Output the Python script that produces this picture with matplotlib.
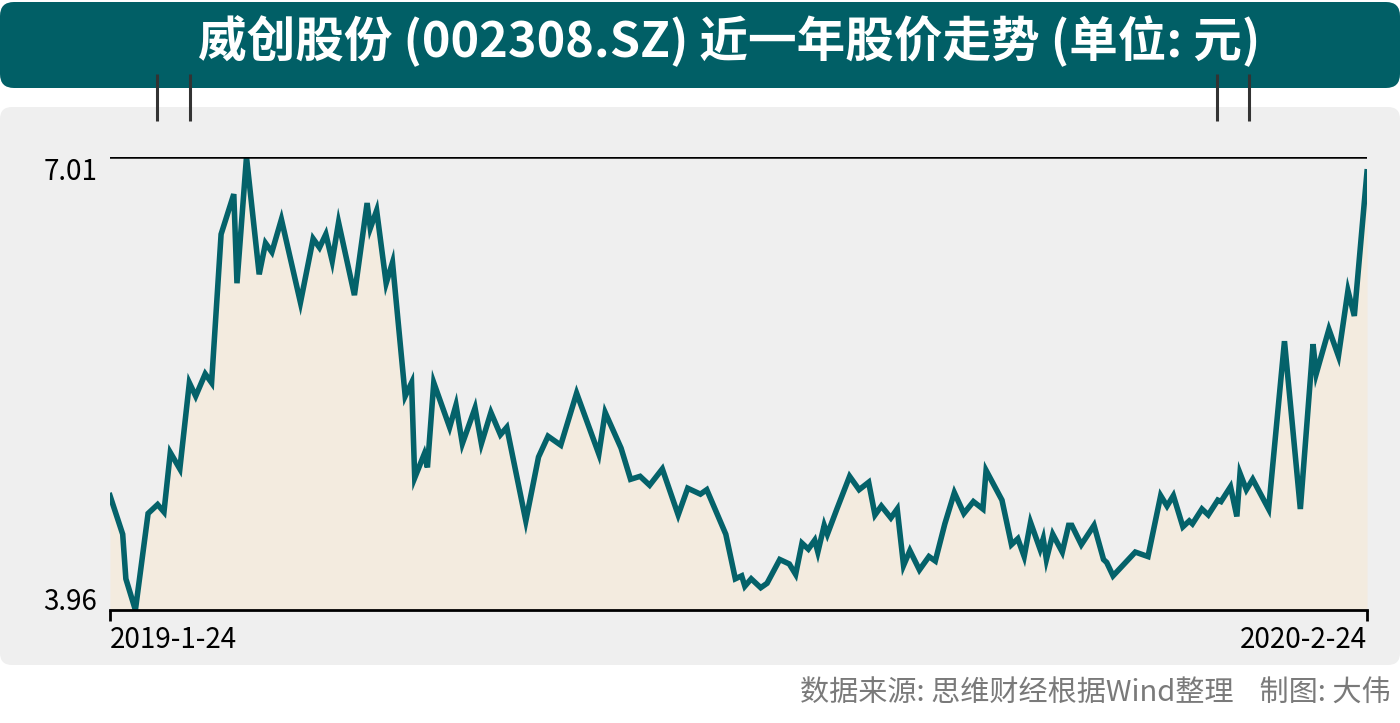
"""
威创股份(002308.SZ) 近一年股价走势 -> out.png
"""

import numpy as np
import pandas as pd
import matplotlib
matplotlib.use("Agg")
import matplotlib.pyplot as plt
from matplotlib.patches import FancyBboxPatch

plt.rcParams["font.family"] = ["Noto Sans CJK SC", "DejaVu Sans"]

# --- Datos ---
START = "2019-01-24"
END = "2020-02-24"
DIAS = [0, 4, 5, 8, 12, 15, 17, 19, 22, 25, 27, 30, 32, 35, 39, 40, 43, 47, 49, 51,
        54, 60, 64, 66, 68, 70, 72, 77, 81, 82, 84, 87, 89, 93, 95, 96, 99, 100, 102, 107,
        109, 111, 115, 117, 120, 123, 125, 131, 135, 138, 142, 147, 154, 156, 161, 164, 167, 170, 174, 179,
        182, 186, 188, 194, 197, 199, 200, 202, 205, 207, 211, 214, 216, 218, 220, 222, 223, 225, 226, 229,
        233, 236, 239, 241, 243, 246, 248, 250, 252, 255, 258, 260, 263, 266, 269, 272, 275, 276, 281, 284,
        286, 288, 290, 293, 294, 295, 297, 300, 302, 303, 306, 310, 313, 314, 316, 323, 327, 331, 333, 335,
        338, 340, 341, 344, 346, 349, 350, 353, 355, 356, 358, 360, 365, 370, 375, 379, 380, 384, 387, 390,
        392, 396]
PRECIO = [4.73, 4.47, 4.17, 3.96, 4.61, 4.67, 4.62, 5.02, 4.91, 5.49, 5.40, 5.55, 5.49, 6.49, 6.76, 6.16, 7.01, 6.22, 6.43, 6.37,
          6.59, 6.03, 6.46, 6.40, 6.49, 6.31, 6.57, 6.08, 6.70, 6.53, 6.65, 6.16, 6.30, 5.40, 5.49, 4.85, 5.01, 4.92, 5.49, 5.19,
          5.34, 5.08, 5.32, 5.08, 5.29, 5.14, 5.19, 4.56, 4.99, 5.13, 5.07, 5.42, 5.01, 5.29, 5.05, 4.84, 4.86, 4.80, 4.91, 4.60,
          4.78, 4.74, 4.77, 4.47, 4.17, 4.19, 4.12, 4.17, 4.11, 4.14, 4.30, 4.27, 4.20, 4.41, 4.37, 4.43, 4.35, 4.53, 4.47, 4.64,
          4.86, 4.77, 4.82, 4.60, 4.66, 4.58, 4.64, 4.26, 4.36, 4.23, 4.32, 4.29, 4.54, 4.75, 4.61, 4.69, 4.64, 4.90, 4.70, 4.40,
          4.44, 4.32, 4.55, 4.37, 4.44, 4.30, 4.47, 4.35, 4.53, 4.53, 4.40, 4.53, 4.30, 4.28, 4.19, 4.35, 4.32, 4.73, 4.66, 4.73,
          4.52, 4.56, 4.54, 4.64, 4.60, 4.70, 4.69, 4.79, 4.59, 4.88, 4.77, 4.84, 4.64, 5.77, 4.64, 5.75, 5.55, 5.85, 5.67, 6.11,
          5.94, 6.91]
Y_MIN, Y_MAX = 3.96, 7.01

TITULO = "威创股份 (002308.SZ) 近一年股价走势 (单位: 元)"
FUENTE = "数据来源: 思维财经根据Wind整理    制图: 大伟"

C_BANNER = "#015f66"
C_PANEL = "#efefef"
C_LINEA = "#04626a"
C_RELLENO = "#f3ebdf"

W, H = 1400, 723
fechas = pd.Timestamp(START) + pd.to_timedelta(DIAS, unit="D")

fig = plt.figure(figsize=(W / 100, H / 100), dpi=100)
fig.patch.set_facecolor("white")

# ---------- fondo (coordenadas en pixeles) ----------
bg = fig.add_axes([0, 0, 1, 1])
bg.set_xlim(0, W)
bg.set_ylim(H, 0)
bg.axis("off")
bg.add_patch(FancyBboxPatch((0, 2), W, 86, boxstyle="round,pad=0,rounding_size=14",
                            fc=C_BANNER, ec="none"))
bg.add_patch(FancyBboxPatch((0, 107), W, 558, boxstyle="round,pad=0,rounding_size=12",
                            fc=C_PANEL, ec="none"))
for xp in [157, 190, 1217, 1249]:
    bg.plot([xp, xp], [74, 121], color="#333333", lw=2.2, solid_capstyle="butt")
bg.text(729, 41, TITULO, color="white", fontsize=35, fontweight="bold",
        ha="center", va="center")
bg.text(1391, 694, FUENTE, color="#7a7a7a", fontsize=21, ha="right", va="center")

# ---------- grafico ----------
ax = fig.add_axes([110 / W, 1 - 610 / H, (1367 - 110) / W, (610 - 157) / H])
ax.set_facecolor("none")
ax.fill_between(fechas, PRECIO, Y_MIN, color=C_RELLENO, lw=0)
ax.plot(fechas, PRECIO, color=C_LINEA, lw=4.0, solid_joinstyle="miter")
ax.axhline(Y_MAX, color="black", lw=1.8)
ax.set_xlim(fechas[0], pd.Timestamp(END))
ax.set_ylim(Y_MIN, Y_MAX)

for s in ["top", "left", "right"]:
    ax.spines[s].set_visible(False)
ax.spines["bottom"].set_linewidth(2)
ax.set_yticks([])
ax.set_xticks([fechas[0], pd.Timestamp(END)])
ax.set_xticklabels(["2019-1-24", "2020-2-24"], fontsize=20)
ax.tick_params(axis="x", length=8, width=2, pad=3)
lbls = ax.get_xticklabels()
lbls[0].set_ha("left")
lbls[1].set_ha("right")

ax.text(-0.01, Y_MAX, "7.01", transform=ax.get_yaxis_transform(), fontsize=20,
        ha="right", va="top")
ax.text(-0.01, Y_MIN, "3.96", transform=ax.get_yaxis_transform(), fontsize=20,
        ha="right", va="baseline")

fig.savefig("out.png", dpi=100)
